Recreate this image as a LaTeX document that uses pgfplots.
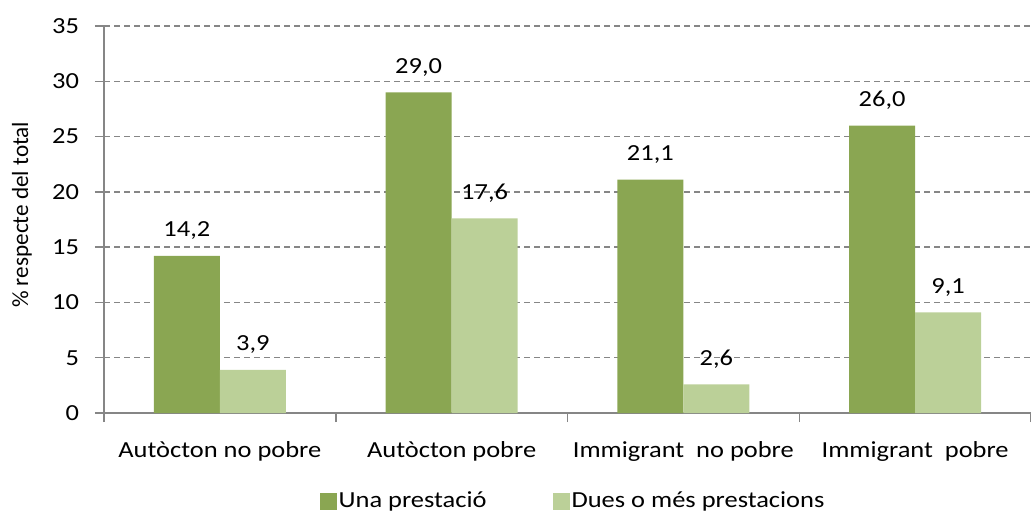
\documentclass[border=0pt]{standalone}
\usepackage{pgfplots}
\pgfplotsset{compat=1.18}
\usepackage{fontspec}
\setmainfont{Carlito}[FakeStretch=1.15]
\newfontfamily\plainfont{Carlito}
\definecolor{dgreen}{HTML}{8AA652}
\definecolor{lgreen}{HTML}{BBD098}
\definecolor{axgray}{HTML}{868686}
\begin{document}
\fontsize{11.5bp}{13bp}\selectfont
\begin{tikzpicture}
\useasboundingbox (-52bp,-52bp) rectangle (463.5bp,206.5bp);
\begin{axis}[
  at={(0,0)}, anchor=south west,
  scale only axis,
  width=463.5bp, height=193.5bp,
  xmin=-0.5, xmax=3.5, ymin=0, ymax=35,
  ytick={0,5,...,35},
  xtick={-0.5,0.5,1.5,2.5,3.5},
  xticklabels={},
  extra x ticks={0,1,2,3},
  extra x tick labels={Autòcton no pobre, Autòcton pobre, Immigrant\ \ no pobre, Immigrant\ \ pobre},
  extra x tick style={major tick length=0pt, xticklabel style={yshift=-10bp}},
  axis lines*=left,
  axis line style={axgray, line width=0.75bp, -},
  tick style={axgray, line width=0.75bp},
  tick align=outside,
  major tick length=4.5bp,
  ymajorgrids,
  grid style={axgray, line width=0.75bp, dash pattern=on 3bp off 2bp},
  yticklabel style={xshift=-4bp},
  ylabel={\plainfont\fontsize{11.6bp}{13bp}\selectfont\% respecte del total},
  every axis y label/.style={at={([xshift=-41bp]axis description cs:0,0.512)}, rotate=90, anchor=center},
  /pgf/number format/assume math mode=true,
  font=\fontsize{11.5bp}{13bp}\selectfont,
  ybar=0pt, bar width=33bp,
  nodes near coords,
  nodes near coords style={/pgf/number format/fixed, /pgf/number format/fixed zerofill, /pgf/number format/precision=1, /pgf/number format/use comma, /pgf/number format/assume math mode=true, yshift=4bp, text=black},
  legend columns=2,
  legend style={at={(0.506,-0.2274)}, anchor=center, draw=none, fill=none,
    /tikz/every even column/.append style={column sep=32bp},
    nodes={inner sep=1bp}},
  legend image code/.code={\fill[#1,draw=none] (0bp,-4.25bp) rectangle (8.5bp,4.25bp);},
]
\addplot[fill=dgreen, draw=none] coordinates {(0,14.2) (1,29.0) (2,21.1) (3,26.0)};
\addplot[fill=lgreen, draw=none] coordinates {(0,3.9) (1,17.6) (2,2.6) (3,9.1)};
\legend{Una prestació, Dues o més prestacions}
\end{axis}
\end{tikzpicture}
\end{document}
